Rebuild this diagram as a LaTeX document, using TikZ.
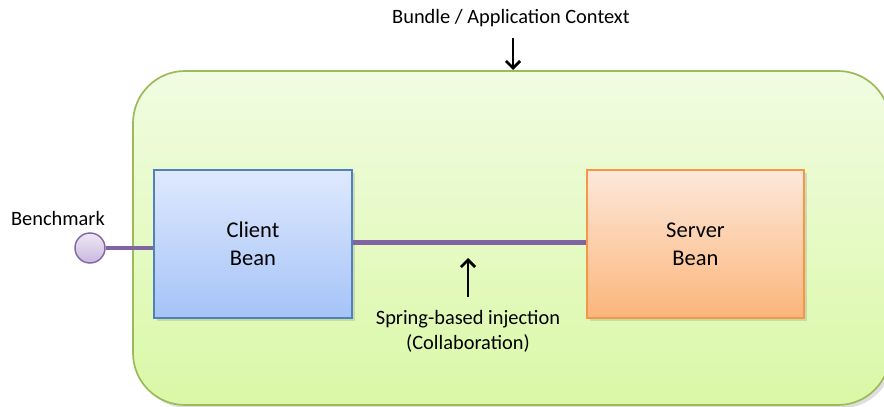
\documentclass[tikz,border=0pt]{standalone}
\usepackage{fontspec}
\setmainfont{Carlito}
\usetikzlibrary{shadows,arrows.meta}

\definecolor{ctxline}{HTML}{9BBB59}
\definecolor{ctxtop}{HTML}{F1FCE2}
\definecolor{ctxbot}{HTML}{DAF8A6}
\definecolor{clientline}{HTML}{4F81BD}
\definecolor{clienttop}{HTML}{DFE9FD}
\definecolor{clientbot}{HTML}{A5C3F8}
\definecolor{serverline}{HTML}{F79646}
\definecolor{servertop}{HTML}{FDE8DA}
\definecolor{serverbot}{HTML}{FBB57A}
\definecolor{wire}{HTML}{8064A2}
\definecolor{porttop}{HTML}{EEE8F5}
\definecolor{portbot}{HTML}{C9B8DF}

\tikzset{
  bean/.style={draw, line width=1pt, minimum width=4.95cm, minimum height=3.7cm,
    align=center, font=\fontsize{16}{20}\selectfont, drop shadow={opacity=0.25}},
  wirestyle/.style={wire, line width=3.5pt},
  pointer/.style={-{Straight Barb[length=5pt,width=10pt]}, line width=2pt, black},
  caption/.style={font=\fontsize{14.5}{18}\selectfont, align=center}
}

\begin{document}
\begin{tikzpicture}[x=0.025cm,y=-0.025cm]
\useasboundingbox (0,0) rectangle (884,407);

% context
\draw[ctxline, line width=1.2pt, top color=ctxtop, bottom color=ctxbot, rounded corners=1.3cm,
  drop shadow={opacity=0.25}] (133,71) rectangle (890,405);
\node[caption] (ctx) at (511,18) {Bundle / Application Context};
\coordinate (ctxtop) at (513,70);
\draw[pointer] (513,38) -- (ctxtop);

% beans
\node[bean, clientline, text=black, top color=clienttop, bottom color=clientbot] (client) at (253,244) {Client\\Bean};
\node[bean, serverline, text=black, top color=servertop, bottom color=serverbot, minimum width=5.425cm] (server) at (695.5,244) {Server\\Bean};

% benchmark port
\node[circle, draw=wire, line width=1pt, top color=porttop, bottom color=portbot, minimum size=0.75cm, inner sep=0pt] (port) at (90,248) {};
\node[caption] (bench) at (58,218) {Benchmark};
\draw[wirestyle] (port.east) -- (port.east -| client.west);
\draw[wirestyle] ([yshift=1pt]client.east) -- ([yshift=1pt]server.west);

% injection
\node[caption] (inj) at (468,331) {Spring-based injection\\(Collaboration)};
\coordinate (wiremid) at (468,258);
\draw[pointer] (468,297) -- (wiremid);
\end{tikzpicture}
\end{document}
